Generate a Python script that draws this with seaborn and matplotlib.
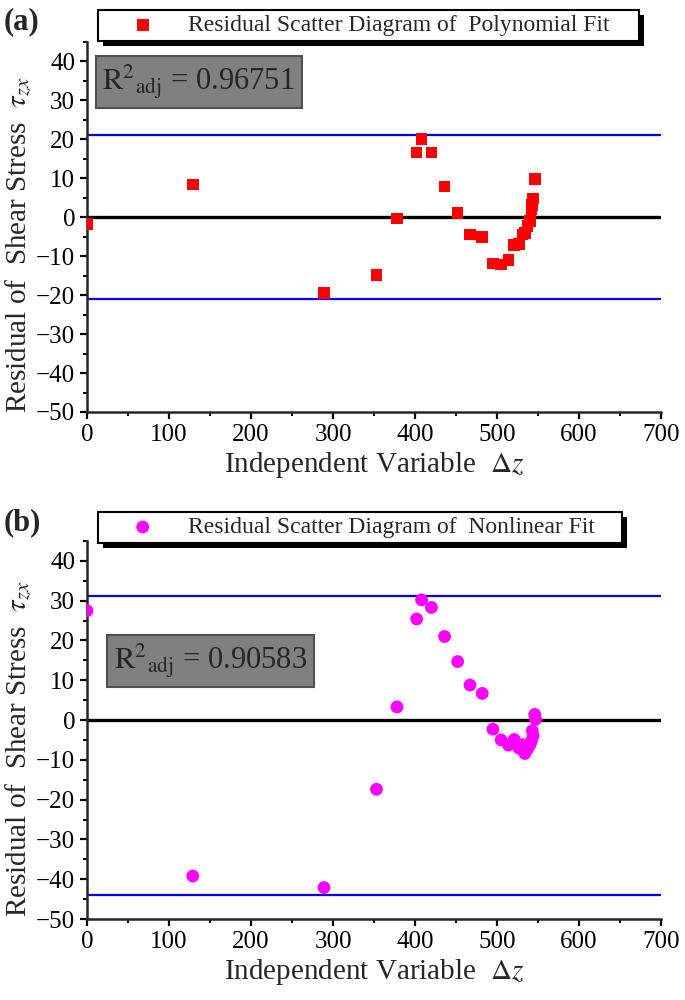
import matplotlib
matplotlib.use('Agg')
import matplotlib.pyplot as plt
from matplotlib.ticker import MultipleLocator
from matplotlib.patches import Rectangle
from matplotlib.transforms import IdentityTransform
import seaborn as sns
import pandas as pd

# residual data
dz = [0, 129, 289, 353, 378, 402, 408, 420, 436, 452, 467, 482, 495,
      505, 514, 521, 527, 531, 534, 537, 540, 542, 543, 544, 546, 547]
res_poly = [-1.8, 8.4, -19.4, -14.8, -0.3, 16.6, 20.1, 16.6, 7.9, 1.1, -4.4, -5.0, -11.9,
            -12.1, -10.9, -7.1, -6.9, -4.4, -4.1, -2.2, -1.0, 2.0, 3.1, 4.8, 9.9, 9.7]
res_nonlin = [27.5, -39.2, -42.1, -17.4, 3.3, 25.4, 30.2, 28.3, 21.0, 14.7, 8.8, 6.7, -2.3,
              -5.0, -6.3, -4.9, -7.1, -6.2, -8.4, -7.3, -6.3, -5.3, -2.7, -4.0, 1.4, 0.2]
bands_poly = [21.2, -20.9]
bands_nonlin = [31.2, -43.9]
r2_poly = "0.96751"
r2_nonlin = "0.90583"
legend_poly = "Residual Scatter Diagram of  Polynomial Fit"
legend_nonlin = "Residual Scatter Diagram of  Nonlinear Fit"

sns.set_theme(style='ticks')
plt.rcParams['font.family'] = ['Liberation Serif', 'DejaVu Serif']
plt.rcParams['mathtext.fontset'] = 'stix'
plt.rcParams['axes.linewidth'] = 1.8
plt.rcParams['xtick.major.width'] = 1.6
plt.rcParams['ytick.major.width'] = 1.6
plt.rcParams['xtick.minor.width'] = 1.4
plt.rcParams['ytick.minor.width'] = 1.4
plt.rcParams['xtick.major.size'] = 5
plt.rcParams['ytick.major.size'] = 5
plt.rcParams['xtick.minor.size'] = 3
plt.rcParams['ytick.minor.size'] = 3

fig = plt.figure(figsize=(6.85, 10), dpi=100)
ax1 = fig.add_axes([0.127, 0.588, 0.838, 0.370])
ax2 = fig.add_axes([0.127, 0.081, 0.838, 0.378])


def draw_panel(ax, y, bands, marker, color, size, label, r2, r2_xy, leg_w, leg_y, tag, tag_y):
    df = pd.DataFrame({'dz': dz, 'res': y})
    for b in bands:
        ax.axhline(b, color='blue', lw=1.6, zorder=1)
    ax.axhline(0, color='black', lw=2.4, zorder=1)
    sns.scatterplot(data=df, x='dz', y='res', ax=ax, marker=marker, color=color,
                    s=size, edgecolor='none', label=label, zorder=3)
    ax.set_xlim(0, 700)
    ax.set_ylim(-50, 45)
    ax.xaxis.set_major_locator(MultipleLocator(100))
    ax.xaxis.set_minor_locator(MultipleLocator(50))
    ax.yaxis.set_minor_locator(MultipleLocator(5))
    ax.set_yticks([-50, -40, -30, -20, -10, 0, 10, 20, 30, 40])
    ax.tick_params(axis='both', which='both', direction='out', labelsize=18, colors='black')
    sns.despine(ax=ax)
    ax.set_xlabel(r'Independent Variable  $\Delta z$', fontsize=21, labelpad=3)
    ax.set_ylabel(r'Residual of  Shear Stress  $\tau_{zx}$', fontsize=21)
    ax.yaxis.set_label_coords(-0.093, 0.452)
    leg = ax.legend(loc='upper left', bbox_to_anchor=(0.019, leg_y, leg_w, 0.0),
                    mode='expand', fontsize=17, frameon=True, fancybox=False, framealpha=1.0,
                    handlelength=3.4, handletextpad=0.2, borderpad=0.2, borderaxespad=0)
    leg.get_frame().set_edgecolor('black')
    leg.get_frame().set_facecolor('white')
    leg.get_frame().set_linewidth(1.5)
    leg.set_zorder(6)
    ax.text(r2_xy[0], r2_xy[1], r'$\mathrm{R}^{2}{}_{\mathrm{adj}}$ = ' + r2,
            transform=fig.transFigure, ha='center', va='center', fontsize=22,
            bbox=dict(boxstyle='square,pad=0.22', fc='#808080', ec='#505050', lw=1.5),
            zorder=5)
    fig.text(0.006, tag_y, tag, fontsize=22, fontweight='bold', va='top', ha='left')
    return leg


leg1 = draw_panel(ax1, res_poly, bands_poly, 's', 'red', 70, legend_poly, r2_poly,
                  (0.290, 0.918), 0.943, 1.086, '(a)', 0.993)
leg2 = draw_panel(ax2, res_nonlin, bands_nonlin, 'o', 'magenta', 85, legend_nonlin, r2_nonlin,
                  (0.307, 0.339), 0.913, 1.077, '(b)', 0.492)

# solid black drop shadow behind each legend box
fig.canvas.draw()
for ax, leg in [(ax1, leg1), (ax2, leg2)]:
    bb = leg.get_frame().get_window_extent()
    ax.add_patch(Rectangle((bb.x0 + 5, bb.y0 - 5), bb.width, bb.height,
                           transform=IdentityTransform(), facecolor='black',
                           edgecolor='none', zorder=5.5, clip_on=False))

plt.savefig('out.png', dpi=100)
plt.close()
